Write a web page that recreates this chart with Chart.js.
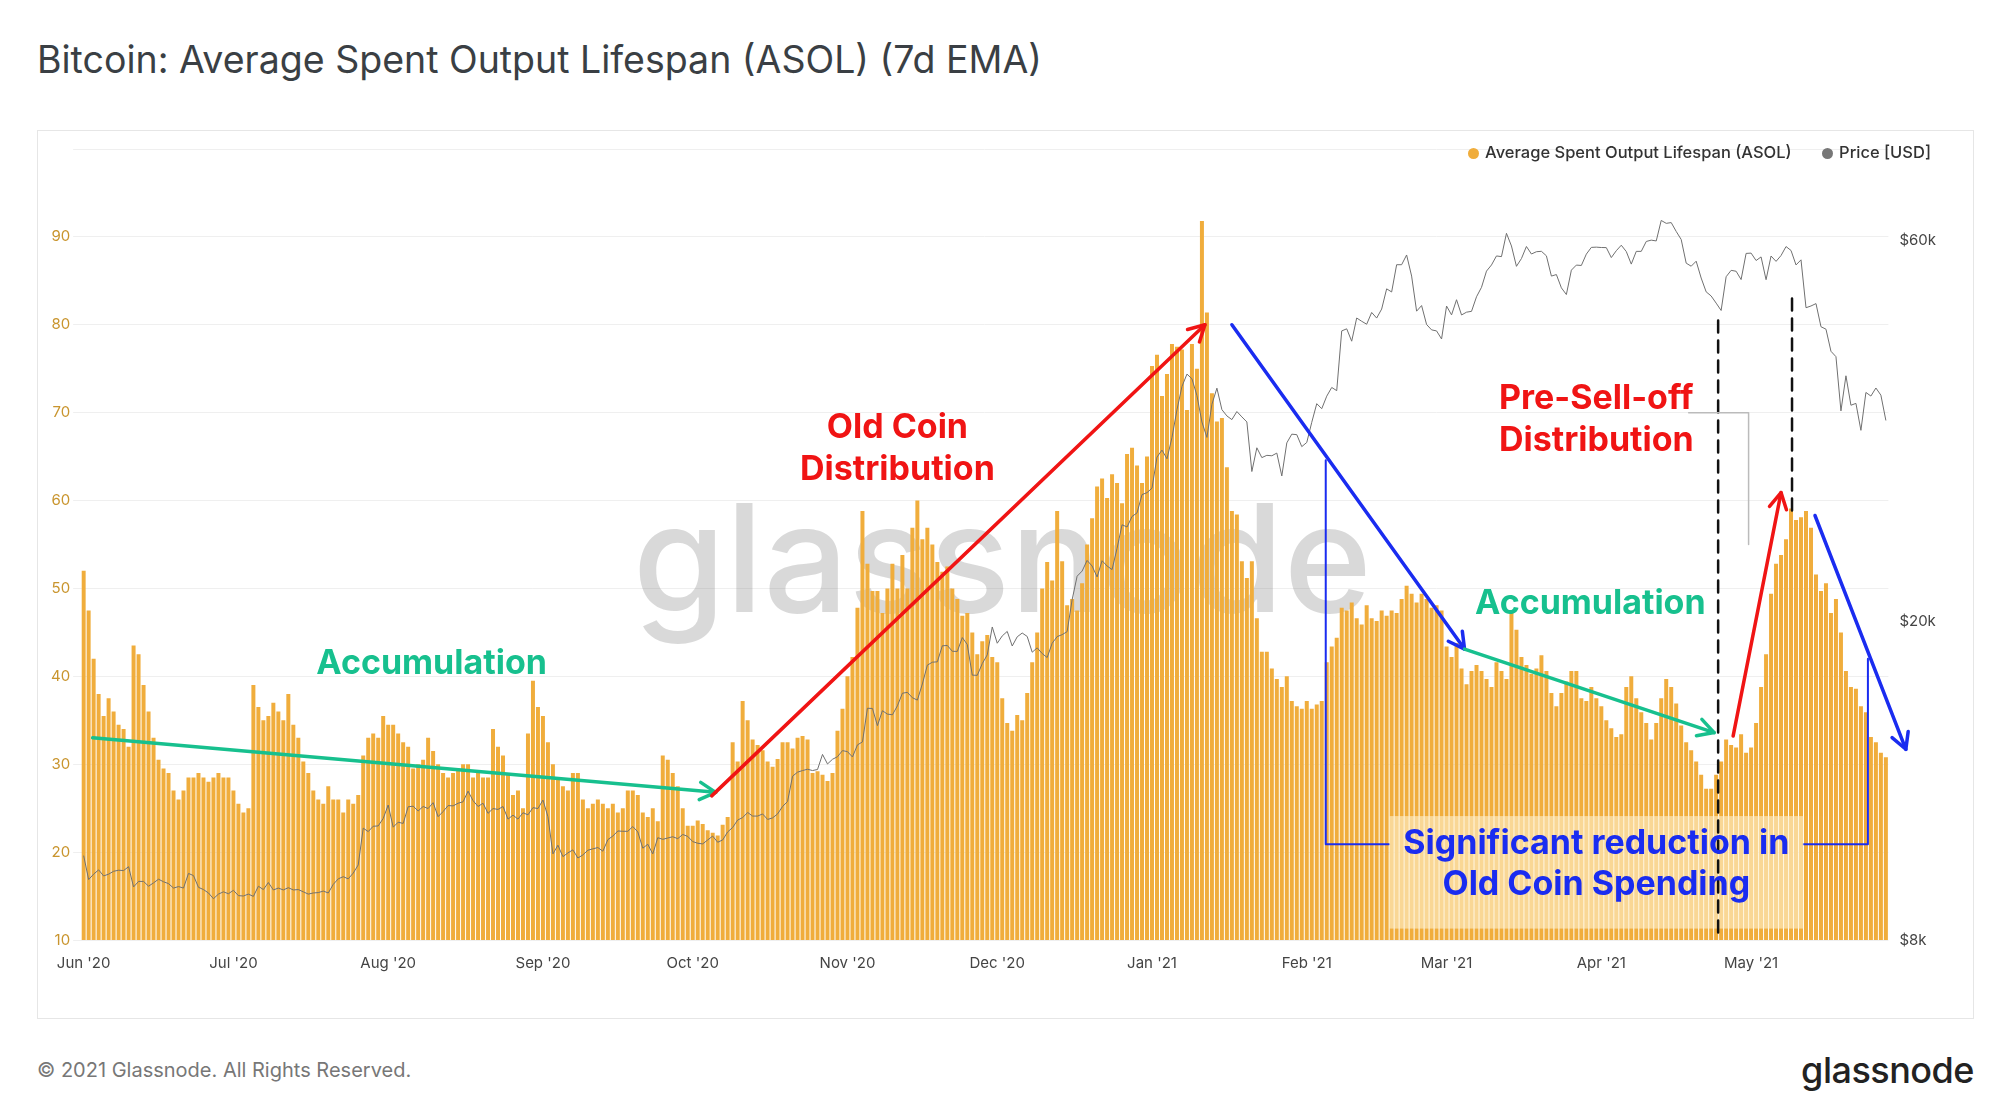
<!DOCTYPE html>
<html>
<head>
<meta charset="utf-8">
<script src="https://cdn.jsdelivr.net/npm/chart.js@4.4.0/dist/chart.umd.min.js"></script>
<style>
  body { margin: 0; background: #fff; font-family: Inter, "Noto Sans", sans-serif; width: 2000px; height: 1118px; overflow: hidden; position: relative; }
  #title { position: absolute; left: 37px; top: 37px; font-size: 37.5px; color: #3a3f44; }
  #box { position: absolute; left: 37px; top: 130px; width: 1935px; height: 887px; border: 1px solid #e6e6e6; }
  #legend { position: absolute; right: 42px; top: 11px; font-size: 16.5px; color: #333; font-weight: 500; }
  #legend span.dot { display: inline-block; width: 11px; height: 11px; border-radius: 50%; margin-right: 6px; vertical-align: -1px; }
  #legend span.item { margin-left: 26px; }
  #footer { position: absolute; left: 37px; top: 1058px; font-size: 20px; color: #777; }
  #logo { position: absolute; right: 26px; top: 1048px; font-size: 36px; color: #222; font-weight: 500; letter-spacing: -0.5px; }
</style>
</head>
<body>
<div id="title">Bitcoin: Average Spent Output Lifespan (ASOL) (7d EMA)</div>
<div id="box">
  <canvas id="chart"></canvas>
  <div id="legend">
    <span class="item"><span class="dot" style="background:#f0ad3c"></span>Average Spent Output Lifespan (ASOL)</span>
    <span class="item"><span class="dot" style="background:#777"></span>Price [USD]</span>
  </div>
</div>
<div id="footer">© 2021 Glassnode. All Rights Reserved.</div>
<div id="logo">glassnode</div>
<script>
// -------------------------------------------------------------------------- Data (daily, 1 Jun 2020 - 28 May 2021)
const startDate = new Date(Date.UTC(2020, 5, 1))
const months = ['Jan', 'Feb', 'Mar', 'Apr', 'May', 'Jun', 'Jul', 'Aug', 'Sep', 'Oct', 'Nov', 'Dec']

const asolJun = [52,47.5,42,38,35.5,37.5,36,34.5,34,32,43.5,42.5,39,36,33,30.5,29.5,29,27,26,27,28.5,28.5,29,28.5,28,28.5,29,28.5,28.5]
const asolJul = [27,25.5,24.5,25,39,36.5,35,35.5,37,36,35,38,34.5,33,30.3,29,27,26,25.5,27.5,26,26,24.5,26,25.5,26.5,31,33,33.5,33,35.5]
const asolAug = [34.5,34.5,33.5,32.5,32,29.5,30,30.5,33,31.5,30,29,28.5,29,29.5,30,30,28.5,29,28.5,28.5,34,32,31,29,26.5,27,25,33.5,39.5,36.5]
const asolSep = [35.5,32.5,30,28.5,27.5,27,29,29,26,25,25.5,26,25.5,25,25.5,24.5,25,27,27,26.5,24.5,24,25,23.5,31,30.5,29,27.5,25,23]
const asolOct = [23,23.6,23.2,22.5,22.2,21.9,23.1,24,32.5,30.3,37.2,35,32.8,32.2,31.6,30.3,29.7,30.6,32.5,32.5,31.8,33,33.2,32.8,29,29.2,28.8,28.1,29,33.8,36.3]
const asolNov = [40,42.2,47.8,58.8,52.8,49.7,49.7,47.2,50,52.8,50,53.8,50,56.9,60,55.6,56.9,55,53,51.9,52.5,50,48.8,46.9,47.2,45,42.5,44,44.7,42.2]
const asolDec = [41.6,37.5,34.7,33.8,35.6,35,38.1,41.6,45,50,53,50.9,58.8,53.1,48.1,48.8,47.5,50.6,55,58,61.6,62.5,60.3,63,62,59.7,65.3,66,64,62,65]
const asolJan = [75.3,76.6,71.9,74.4,77.8,77.5,77.2,70.3,77.8,75,91.8,81.4,72.2,69,69.4,63.8,58.8,58.4,53.1,51.2,53.1,46.6,42.8,42.8,40.9,39.7,38.8,40,37.2,36.6,36.3]
const asolFeb = [37.2,36.3,36.8,37.2,41.6,43.4,44.4,47.8,47.5,48.4,46.6,45.9,48.1,46.6,46.3,47.5,46.9,47.5,47.2,48.8,50.3,49.4,48.4,49.4,48.8,47.8,48.1,47.5]
const asolMar = [43.4,42.2,43.8,40.9,39.1,40.6,41.3,40.6,39.7,38.8,41.6,40.6,39.7,47.5,45.3,42.2,41.3,40.3,40.9,42.4,40.6,38.1,36.6,38.1,39.4,40.6,40.6,37.5,37.2,38.8,37.5]
const asolApr = [36.6,35,34.1,33.1,33.4,38.8,40,37.5,35.9,34.7,32.8,34.7,37.5,39.7,38.8,36.9,34.4,32.5,31.6,30.3,28.8,27.2,27.2,28.8,30.3,32.8,32.2,31.9,33.4,31.3]
const asolMay = [31.9,34.7,38.8,42.5,49.4,52.8,53.8,55.6,59.1,57.8,58.1,58.8,56.9,51.6,49.7,50.6,47.2,48.8,45,40.6,38.8,38.6,36.6,35.9,33.1,32.5,31.3,30.8]

const priceJun = [10200,9520,9670,9790,9620,9670,9750,9780,9770,9880,9320,9470,9470,9340,9430,9530,9460,9410,9290,9330,9290,9690,9630,9310,9250,9160,9010,9130,9190,9140]
const priceJul = [9230,9090,9080,9130,9070,9340,9250,9440,9240,9290,9240,9300,9240,9250,9190,9130,9160,9170,9210,9160,9390,9540,9600,9540,9700,9930,11040,10930,11100,11110,11350]
const priceAug = [11800,11070,11230,11190,11740,11760,11600,11750,11680,11880,11410,11580,11780,11770,11860,11910,12280,11950,11750,11860,11520,11680,11650,11750,11330,11460,11330,11540,11470,11710,11680]
const priceSep = [11970,11410,10250,10510,10170,10280,10370,10130,10220,10360,10400,10440,10330,10680,10790,10950,10940,10940,11090,10920,10420,10540,10250,10740,10690,10730,10770,10710,10840,10780]
const priceOct = [10620,10570,10550,10670,10790,10600,10670,10920,11060,11300,11380,11550,11430,11430,11500,11320,11370,11500,11750,11920,12820,12970,13030,13080,13030,13070,13650,13280,13460,13560,13800]
const priceNov = [13760,13550,14030,14150,15590,15580,14830,15480,15330,15300,15700,16280,16320,16070,15960,16720,17650,17800,17820,18660,18680,18370,18360,19110,18730,17150,17140,17730,18180,19700]
const priceDec = [18800,19200,19450,18650,19150,19360,19170,18320,18550,18250,18040,18800,19160,19270,19440,21310,22800,23140,23860,23480,22750,23840,23480,23240,24710,26440,26270,27080,27360,28840,29000]
const priceJan = [29380,32130,32780,31970,33990,36820,39370,40800,40250,38350,35540,34000,37400,39180,36830,36170,35790,36630,36070,35550,30820,33000,32080,32290,32250,32500,30430,33470,34320,34270,33110]
const priceFeb = [33510,35510,37470,36930,38290,39260,38900,46200,46480,44850,47950,47500,47100,48720,47940,49200,52150,51680,55900,55900,57490,54100,48900,49700,47060,46340,46200,45140]
const priceMar = [49630,48380,50540,48370,48760,48880,50970,52380,54880,55860,57330,57220,61190,59000,55640,56900,58910,57650,58030,58100,57350,54100,54340,52300,51300,55030,55840,55780,57630,58760,58800]
const priceApr = [58740,58720,57060,58200,59130,58060,56000,58090,58090,59770,60000,59860,63500,62970,63110,61520,60110,56150,55660,56470,53800,51700,51090,50050,49000,54000,55000,54860,53560,57750]
const priceMay = [57800,56580,57170,53540,57320,56440,57400,58900,58240,55860,56690,49390,49640,49980,46760,46430,43570,42900,36700,40600,37300,37500,34700,38700,38300,39200,38400,35700]

const asol = [].concat(asolJun, asolJul, asolAug, asolSep, asolOct, asolNov, asolDec, asolJan, asolFeb, asolMar, asolApr, asolMay)
const price = [].concat(priceJun, priceJul, priceAug, priceSep, priceOct, priceNov, priceDec, priceJan, priceFeb, priceMar, priceApr, priceMay)

const leftTicks = [10, 20, 30, 40, 50, 60, 70, 80, 90, 100]
const rightTicks = [8000, 20000, 60000]

const dates = asol.map((v, i) => new Date(startDate.getTime() + i * 86400000))
const labels = dates.map(d => d.getUTCDate() === 1 ? months[d.getUTCMonth()] + " '" + String(d.getUTCFullYear()).slice(2) : '')

// -------------------------------------------------------------------------- Annotations (in data space: [day index, ASOL value])
const red = '#f01414'
const blue = '#1a2cf0'
const green = '#17c08e'

const arrows = [
    { from: [1.8, 33], to: [126.6, 26.8], color: green },
    { from: [125.8, 26.4], to: [224.6, 80], color: red },
    { from: [230, 80], to: [276.6, 43.1], color: blue },
    { from: [276.6, 43.1], to: [326.6, 33.6], color: green },
    { from: [330.4, 33.2], to: [340, 60.9], color: red },
    { from: [346.8, 58.3], to: [365, 31.7], color: blue }
]

const texts = [
    { at: [69.7, 41.4], lines: ['Accumulation'], color: green },
    { at: [163, 68.3], lines: ['Old Coin', 'Distribution'], color: red },
    { at: [303, 71.6], lines: ['Pre-Sell-off', 'Distribution'], color: red },
    { at: [301.8, 48.3], lines: ['Accumulation'], color: green }
]

const watermark = {
    id: 'watermark',
    beforeDatasetsDraw(chart) {
        const { ctx, scales: { x, y } } = chart
        ctx.save()
        ctx.font = '500 150px Inter, "Noto Sans", sans-serif'
        ctx.fillStyle = 'rgba(120, 120, 120, 0.28)'
        ctx.textAlign = 'center'
        ctx.textBaseline = 'middle'
        ctx.fillText('glassnode', x.getPixelForValue(184), y.getPixelForValue(52.5))
        ctx.restore()
    }
}

function arrow(ctx, x1, y1, x2, y2, color) {
    ctx.strokeStyle = color
    ctx.lineWidth = 3.5
    ctx.beginPath()
    ctx.moveTo(x1, y1)
    ctx.lineTo(x2, y2)
    ctx.stroke()
    const a = Math.atan2(y2 - y1, x2 - x1)
    const h = 18
    ctx.beginPath()
    ctx.moveTo(x2 - h * Math.cos(a - 0.5), y2 - h * Math.sin(a - 0.5))
    ctx.lineTo(x2, y2)
    ctx.lineTo(x2 - h * Math.cos(a + 0.5), y2 - h * Math.sin(a + 0.5))
    ctx.stroke()
}

const annotations = {
    id: 'annotations',
    afterDatasetsDraw(chart) {
        const { ctx, scales: { x, y } } = chart
        const px = i => x.getPixelForValue(i)
        const py = v => y.getPixelForValue(v)
        ctx.save()
        ctx.lineCap = 'round'
        ctx.lineJoin = 'round'

        // thin blue bracket + text box
        ctx.strokeStyle = blue
        ctx.lineWidth = 2
        ctx.beginPath()
        ctx.moveTo(px(248.8), py(64.6))
        ctx.lineTo(px(248.8), py(20.9))
        ctx.lineTo(px(261.5), py(20.9))
        ctx.moveTo(px(344.5), py(20.9))
        ctx.lineTo(px(357.4), py(20.9))
        ctx.lineTo(px(357.4), py(42))
        ctx.stroke()

        ctx.fillStyle = 'rgba(255, 240, 205, 0.62)'
        ctx.fillRect(px(261.5), py(24.1), px(344.5) - px(261.5), py(11.3) - py(24.1))

        // dashed black lines
        ctx.strokeStyle = '#111'
        ctx.lineWidth = 2.5
        ctx.setLineDash([12, 8])
        ctx.beginPath()
        ctx.moveTo(px(327.4), py(80.5))
        ctx.lineTo(px(327.4), py(10))
        ctx.moveTo(px(342.2), py(83))
        ctx.lineTo(px(342.2), py(58.3))
        ctx.stroke()
        ctx.setLineDash([])

        // gray leader
        ctx.strokeStyle = '#bbb'
        ctx.lineWidth = 1.5
        ctx.beginPath()
        ctx.moveTo(px(321.5), py(70))
        ctx.lineTo(px(333.5), py(70))
        ctx.lineTo(px(333.5), py(55))
        ctx.stroke()

        arrows.forEach(a => arrow(ctx, px(a.from[0]), py(a.from[1]), px(a.to[0]), py(a.to[1]), a.color))

        ctx.textAlign = 'center'
        ctx.textBaseline = 'middle'
        ctx.font = 'bold 34px Inter, "Noto Sans", sans-serif'
        texts.forEach(t => {
            ctx.fillStyle = t.color
            t.lines.forEach((l, k) => ctx.fillText(l, px(t.at[0]), py(t.at[1]) + k * 42))
        })
        ctx.fillStyle = blue
        ctx.fillText('Significant reduction in', px(303), py(20.9))
        ctx.fillText('Old Coin Spending', px(303), py(20.9) + 41)
        ctx.restore()
    }
}

// -------------------------------------------------------------------------- Chart
new Chart(document.getElementById('chart'), {
    data: {
        labels: labels,
        datasets: [{
            type: 'line',
            label: 'Price [USD]',
            data: price,
            yAxisID: 'y2',
            borderColor: '#707070',
            borderWidth: 1,
            pointRadius: 0,
            tension: 0
        }, {
            type: 'bar',
            label: 'Average Spent Output Lifespan (ASOL)',
            data: asol,
            yAxisID: 'y',
            backgroundColor: '#f0ad3c',
            categoryPercentage: 0.8,
            barPercentage: 1
        }]
    },
    options: {
        responsive: true,
        maintainAspectRatio: false,
        animation: false,
        layout: { padding: { top: 18, right: 34, left: 10, bottom: 40 } },
        plugins: { legend: { display: false }, tooltip: { enabled: false } },
        scales: {
            x: {
                grid: { display: false },
                border: { display: false },
                ticks: {
                    autoSkip: false,
                    maxRotation: 0,
                    color: '#444',
                    font: { size: 15, family: 'Inter' },
                    padding: 6
                }
            },
            y: {
                position: 'left',
                min: 10,
                max: 100,
                afterBuildTicks: s => { s.ticks = leftTicks.map(v => ({ value: v })) },
                grid: { color: '#efefef' },
                border: { display: false },
                ticks: {
                    color: '#c9952e',
                    font: { size: 15, family: 'Inter' },
                    callback: v => v === 100 ? '' : v
                }
            },
            y2: {
                type: 'logarithmic',
                position: 'right',
                min: 8000,
                max: 78000,
                afterBuildTicks: s => { s.ticks = rightTicks.map(v => ({ value: v })) },
                grid: { display: false },
                border: { display: false },
                ticks: {
                    color: '#444',
                    font: { size: 15, family: 'Inter' },
                    callback: v => '$' + (v / 1000) + 'k'
                }
            }
        }
    },
    plugins: [watermark, annotations]
})
</script>
</body>
</html>
